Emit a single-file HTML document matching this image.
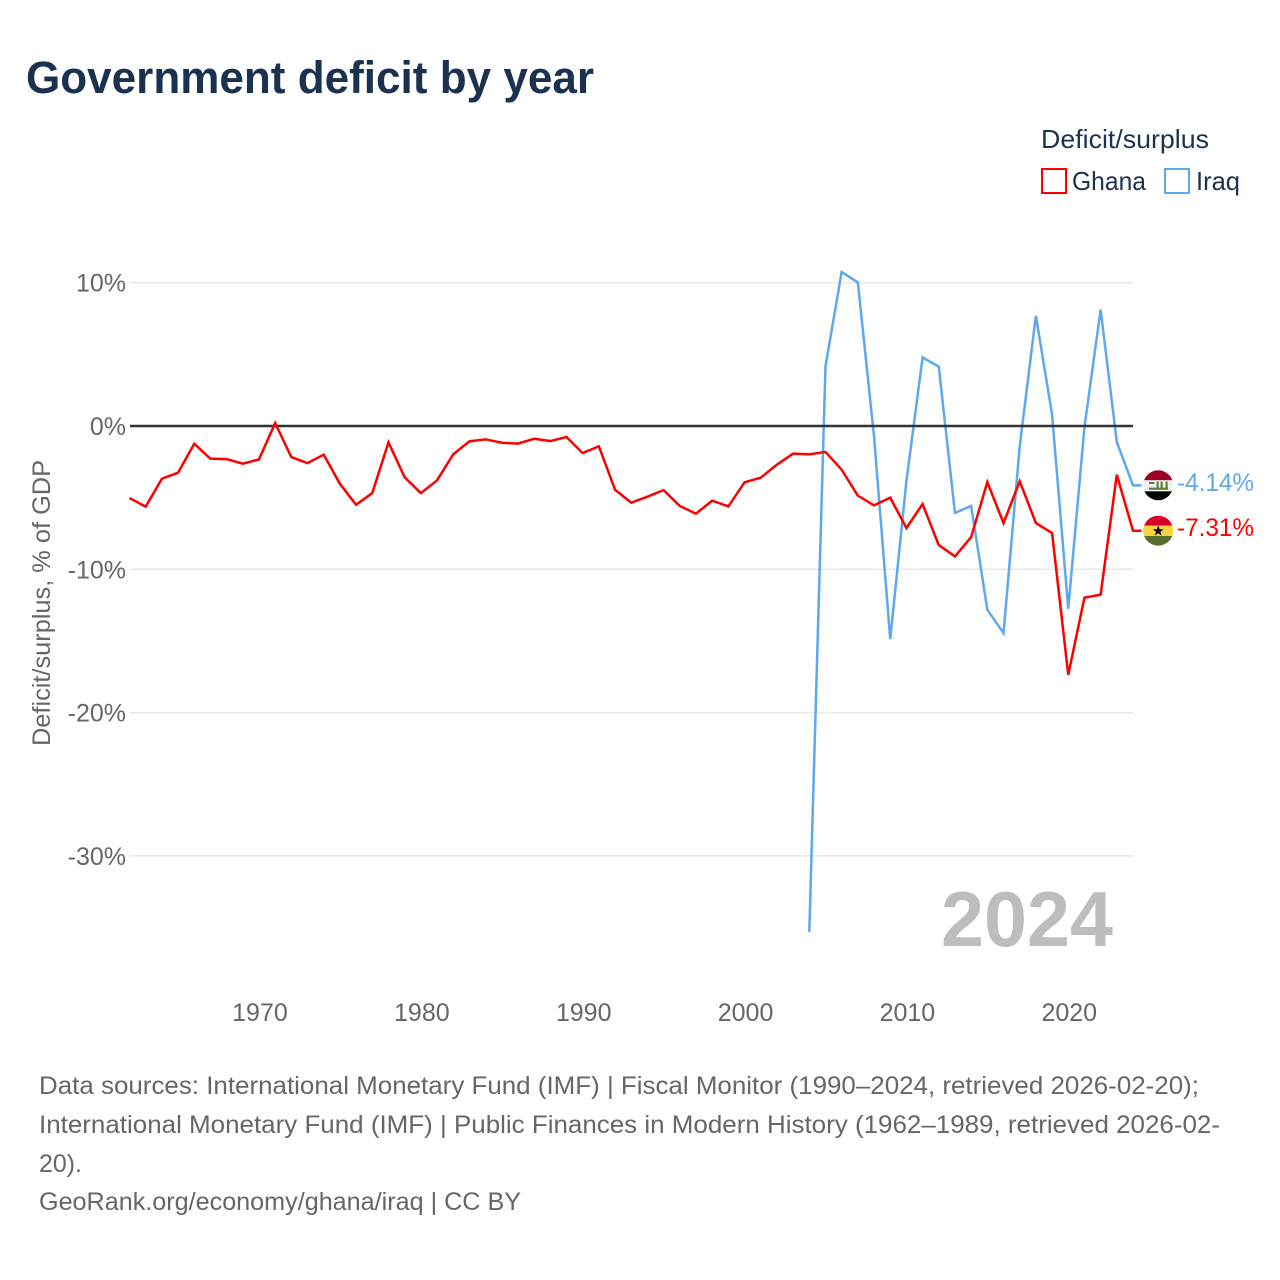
<!DOCTYPE html>
<html lang="en">
<head>
<meta charset="utf-8">
<title>Government deficit by year</title>
<style>
html,body{margin:0;padding:0;background:#fff;}
svg{display:block;font-family:"Liberation Sans",sans-serif;}
.tick{font-size:25px;fill:#666;}
.foot{font-size:25px;fill:#666;}
.leg{font-size:26px;fill:#1a3150;}
</style>
</head>
<body>
<svg id="chart" xmlns="http://www.w3.org/2000/svg" width="1280" height="1280" viewBox="0 0 1280 1280">
  <rect x="0" y="0" width="1280" height="1280" fill="#fff"/>
  <text x="26" y="93" font-size="45" font-weight="700" fill="#1a3150" textLength="568" lengthAdjust="spacingAndGlyphs">Government deficit by year</text>

  <g>
    <text class="leg" x="1041" y="148" textLength="168" lengthAdjust="spacingAndGlyphs">Deficit/surplus</text>
    <g>
      <rect x="1042" y="169" width="24" height="24" fill="#fff" stroke="#ff0000" stroke-width="2"/>
      <text class="leg" x="1072" y="190" textLength="74" lengthAdjust="spacingAndGlyphs">Ghana</text>
    </g>
    <g>
      <rect x="1165" y="169" width="24" height="24" fill="#fff" stroke="#5ea8ee" stroke-width="2"/>
      <text class="leg" x="1196" y="190" textLength="44" lengthAdjust="spacingAndGlyphs">Iraq</text>
    </g>
  </g>

  <text transform="translate(50,603) rotate(-90)" text-anchor="middle" font-size="25" fill="#666" textLength="286" lengthAdjust="spacingAndGlyphs">Deficit/surplus, % of GDP</text>

  <g id="grid"></g>
  <g id="yticks"></g>
  <g id="xticks"></g>
  <g id="series"></g>

  <text x="941" y="946" font-size="78" font-weight="700" fill="#bdbdbd" textLength="172" lengthAdjust="spacingAndGlyphs">2024</text>

  <defs>
    <clipPath id="iraq-clip"><circle cx="1158.2" cy="485.3" r="15"/></clipPath>
    <clipPath id="ghana-clip"><circle cx="1158.2" cy="530.7" r="15"/></clipPath>
  </defs>

  <g clip-path="url(#iraq-clip)">
    <rect x="1143" y="470" width="31" height="10.3" fill="#9c0025"/>
    <rect x="1143" y="480.3" width="31" height="11" fill="#f1f1f1"/>
    <rect x="1143" y="491.3" width="31" height="10" fill="#050505"/>
    <rect x="1149" y="487.6" width="19" height="2.2" fill="#5c7f3d"/>
    <rect x="1149" y="482" width="5.5" height="2" fill="#5c7f3d"/>
    <rect x="1156.5" y="481.5" width="2.2" height="7" fill="#5c7f3d"/>
    <rect x="1160.5" y="481.5" width="2.2" height="7" fill="#5c7f3d"/>
    <rect x="1165.5" y="481.5" width="2.2" height="7" fill="#5c7f3d"/>
  </g>
  <g clip-path="url(#ghana-clip)">
    <rect x="1143" y="515" width="31" height="10.5" fill="#d8002a"/>
    <rect x="1143" y="525.5" width="31" height="10.5" fill="#fdd23f"/>
    <rect x="1143" y="536" width="31" height="11" fill="#566e2e"/>
    <polygon points="1158.2,525.3 1159.6,529.2 1163.6,529.2 1160.4,531.7 1161.6,535.6 1158.2,533.2 1154.8,535.6 1156,531.7 1152.8,529.2 1156.8,529.2" fill="#0a0a0a"/>
  </g>

  <text x="1177" y="491" font-size="25" fill="#5ea8ee" textLength="77" lengthAdjust="spacingAndGlyphs">-4.14%</text>
  <text x="1177" y="536" font-size="25" fill="#ff0000" textLength="77" lengthAdjust="spacingAndGlyphs">-7.31%</text>

  <g>
    <text class="foot" x="39" y="1094" textLength="1160" lengthAdjust="spacingAndGlyphs">Data sources: International Monetary Fund (IMF) | Fiscal Monitor (1990–2024, retrieved 2026-02-20);</text>
    <text class="foot" x="39" y="1133" textLength="1181" lengthAdjust="spacingAndGlyphs">International Monetary Fund (IMF) | Public Finances in Modern History (1962–1989, retrieved 2026-02-</text>
    <text class="foot" x="39" y="1172" textLength="43" lengthAdjust="spacingAndGlyphs">20).</text>
    <text class="foot" x="39" y="1210" textLength="482" lengthAdjust="spacingAndGlyphs">GeoRank.org/economy/ghana/iraq | CC BY</text>
  </g>
</svg>

<script>
const ghanaStartYear = 1962;
const iraqStartYear = 2004;
const ghanaValues = [-5.02,-5.63,-3.68,-3.26,-1.24,-2.28,-2.31,-2.63,-2.33,0.2,-2.17,-2.59,-2.0,-4.03,-5.5,-4.68,-1.14,-3.58,-4.68,-3.8,-1.98,-1.07,-0.93,-1.17,-1.23,-0.89,-1.05,-0.77,-1.89,-1.42,-4.45,-5.35,-4.93,-4.47,-5.58,-6.12,-5.21,-5.61,-3.93,-3.61,-2.7,-1.93,-1.98,-1.81,-3.05,-4.86,-5.54,-5.0,-7.12,-5.45,-8.31,-9.1,-7.75,-3.91,-6.77,-3.86,-6.77,-7.47,-17.36,-11.98,-11.77,-3.4,-7.31];
const iraqValues = [-35.3,4.16,10.75,10.02,-0.72,-14.87,-3.86,4.79,4.14,-6.07,-5.58,-12.82,-14.45,-1.44,7.7,0.79,-12.75,-0.1,8.12,-1.12,-4.14];
const yTickValues = [10,0,-10,-20,-30];
const xTickYears = [1970,1980,1990,2000,2010,2020];

const NS = 'http://www.w3.org/2000/svg';
const plotLeft = 130, plotRight = 1133;
const xYear0 = 1962, xYear1 = 2024;
const xPx0 = 129.5, xPx1 = 1133;
const yZero = 426, yPerUnit = 14.33;
const stubEnd = 1141.5;

function xScale(year) { return xPx0 + (year - xYear0) * (xPx1 - xPx0) / (xYear1 - xYear0); }
function yScale(v) { return yZero - v * yPerUnit; }
function make(tag, attrs) {
  const el = document.createElementNS(NS, tag);
  for (const k in attrs) el.setAttribute(k, attrs[k]);
  return el;
}

const grid = document.getElementById('grid');
const yticks = document.getElementById('yticks');
const xticks = document.getElementById('xticks');
const series = document.getElementById('series');

yTickValues.filter(v => v !== 0).forEach(v => {
  const line = make('line', {x1: plotLeft, x2: plotRight, y1: yScale(v), y2: yScale(v), stroke: '#e8e8e8', 'stroke-width': 1.5});
  
  
  grid.appendChild(line);
});

yTickValues.forEach(v => {
  const t = make('text', {x: 126, y: yScale(v) + 9, 'text-anchor': 'end', class: 'tick'});
  t.textContent = v + '%';
  
  
  yticks.appendChild(t);
});

xTickYears.forEach(y => {
  const t = make('text', {x: xScale(y) + 1, y: 1021, 'text-anchor': 'middle', class: 'tick'});
  t.textContent = String(y);
  
  
  xticks.appendChild(t);
});

function pathFor(values, startYear) {
  const pts = values.map((v, i) => xScale(startYear + i).toFixed(2) + ',' + yScale(v).toFixed(2));
  pts.push(stubEnd + ',' + yScale(values[values.length - 1]).toFixed(2));
  return pts.join(' ');
}

const iraqLine = make('polyline', {points: pathFor(iraqValues, iraqStartYear), fill: 'none', stroke: '#5ea8ee', 'stroke-width': 2.5, 'stroke-linejoin': 'miter'});


series.appendChild(iraqLine);

const zeroLine = make('line', {x1: plotLeft, x2: plotRight, y1: yScale(0), y2: yScale(0), stroke: '#333', 'stroke-width': 2.5});


series.appendChild(zeroLine);

const ghanaLine = make('polyline', {points: pathFor(ghanaValues, ghanaStartYear), fill: 'none', stroke: '#ff0000', 'stroke-width': 2.5, 'stroke-linejoin': 'miter'});


series.appendChild(ghanaLine);
</script>
</body>
</html>
